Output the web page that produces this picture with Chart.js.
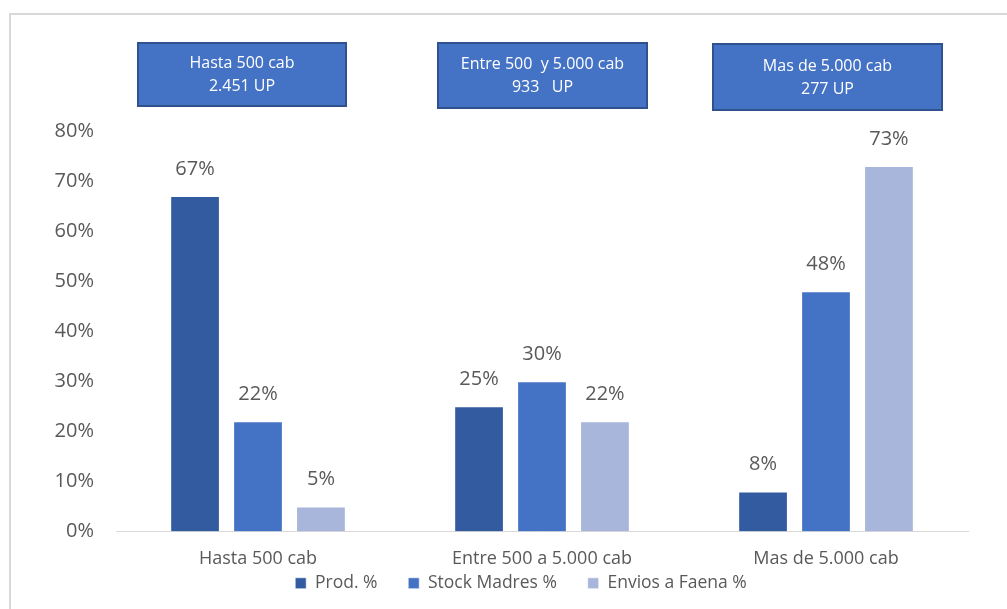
<!DOCTYPE html>
<html>
<head>
<meta charset="utf-8">
<script src="https://cdn.jsdelivr.net/npm/chart.js@4"></script>
<style>
  html, body { margin: 0; padding: 0; background: #fff; }
  #wrap { position: relative; width: 1007px; height: 609px; }
  #frame { position: absolute; left: 9px; top: 13px; right: -5px; bottom: -5px;
           border-left: 2px solid #d9d9d9; border-top: 2px solid #d9d9d9; }
  canvas { position: absolute; left: 0; top: 0; }
</style>
</head>
<body>
<div id="wrap">
  <div id="frame"></div>
  <canvas id="chart" width="1007" height="609"></canvas>
</div>
<script>
// categories and series
let categories = ['Hasta 500 cab', 'Entre 500 a 5.000 cab', 'Mas de 5.000 cab']
let prodPct = [0.67, 0.25, 0.08]
let stockPct = [0.22, 0.30, 0.48]
let enviosPct = [0.05, 0.22, 0.73]
let seriesNames = ['Prod. %', 'Stock Madres %', 'Envios a Faena %']
let seriesColors = ['#335ca0', '#4472c4', '#a8b6db']

// text of the boxes above each group
let boxLines = [
    ['Hasta 500 cab', '2.451 UP'],
    ['Entre 500  y 5.000 cab', '933   UP'],
    ['Mas de 5.000 cab', '277 UP']
]

let fontFamily = '"Open Sans", Lato, sans-serif'
let legendShift = 32

/* labels above each bar */
let barLabels = {
    id: 'barLabels',
    afterDatasetsDraw(chart) {
        let ctx = chart.ctx
        ctx.save()
        ctx.fillStyle = '#595959'
        ctx.font = '20px ' + fontFamily
        ctx.textAlign = 'center'
        ctx.textBaseline = 'middle'
        chart.data.datasets.forEach((ds, i) => {
            chart.getDatasetMeta(i).data.forEach((bar, j) => {
                ctx.fillText(Math.round(ds.data[j] * 100) + '%', bar.x, bar.y - 27)
            })
        })
        ctx.restore()
    },
    // move the legend a little to the right, like the original
    afterLayout(chart) {
        if (chart.legend) {
            chart.legend.left += legendShift
            chart.legend.right += legendShift
        }
    }
}

/* blue boxes at the top */
let boxPos = [
    {x: 137, y: 42, w: 210, h: 65},
    {x: 437, y: 42, w: 211, h: 67},
    {x: 712, y: 43, w: 231, h: 68}
]
let topBoxes = {
    id: 'topBoxes',
    afterDraw(chart) {
        let ctx = chart.ctx
        ctx.save()
        boxPos.forEach((b, i) => {
            ctx.fillStyle = '#4472c4'
            ctx.fillRect(b.x, b.y, b.w, b.h)
            ctx.strokeStyle = '#2f528f'
            ctx.lineWidth = 2
            ctx.strokeRect(b.x + 1, b.y + 1, b.w - 2, b.h - 2)
            ctx.fillStyle = '#ffffff'
            ctx.font = '16px ' + fontFamily
            ctx.textAlign = 'center'
            ctx.textBaseline = 'middle'
            let cx = b.x + b.w / 2
            let cy = b.y + b.h / 2
            ctx.fillText(boxLines[i][0], cx, cy - 11)
            ctx.fillText(boxLines[i][1], cx, cy + 12)
        })
        ctx.restore()
    }
}

let context = document.querySelector('#chart').getContext('2d')

let chart = new Chart(context, {
    type: 'bar',
    data: {
        labels: categories,
        datasets: [
            {label: seriesNames[0], data: prodPct, backgroundColor: seriesColors[0]},
            {label: seriesNames[1], data: stockPct, backgroundColor: seriesColors[1]},
            {label: seriesNames[2], data: enviosPct, backgroundColor: seriesColors[2]}
        ]
    },
    options: {
        responsive: false,
        animation: false,
        events: [],
        layout: { padding: { left: 10, right: 39, top: 131, bottom: 7 } },
        datasets: {
            bar: {
                categoryPercentage: 0.665,
                barPercentage: 0.79,
                borderColor: 'rgba(255,255,255,0.6)',
                borderWidth: 1
            }
        },
        scales: {
            x: {
                grid: { display: false },
                border: { color: '#d9d9d9', width: 1 },
                ticks: { color: '#595959', font: { family: fontFamily, size: 18 }, padding: 9 },
                afterFit(scale) { scale.height = 35 }
            },
            y: {
                min: 0,
                max: 0.8,
                grid: { display: false },
                border: { display: false },
                ticks: {
                    stepSize: 0.1,
                    color: '#595959',
                    font: { family: fontFamily, size: 20 },
                    padding: 14,
                    callback: v => Math.round(v * 100) + '%'
                },
                afterFit(scale) { scale.width = 106 }
            }
        },
        plugins: {
            tooltip: { enabled: false },
            legend: {
                position: 'bottom',
                labels: {
                    color: '#595959',
                    font: { family: fontFamily, size: 17.5 },
                    boxWidth: 11,
                    boxHeight: 11,
                    padding: 8,
                    // extra space after the first two entries
                    generateLabels(chart) {
                        let items = Chart.defaults.plugins.legend.labels.generateLabels(chart)
                        items.forEach((it, i) => {
                            if (i < items.length - 1) it.text += '     '
                        })
                        return items
                    }
                }
            }
        }
    },
    plugins: [barLabels, topBoxes]
})
</script>
</body>
</html>
